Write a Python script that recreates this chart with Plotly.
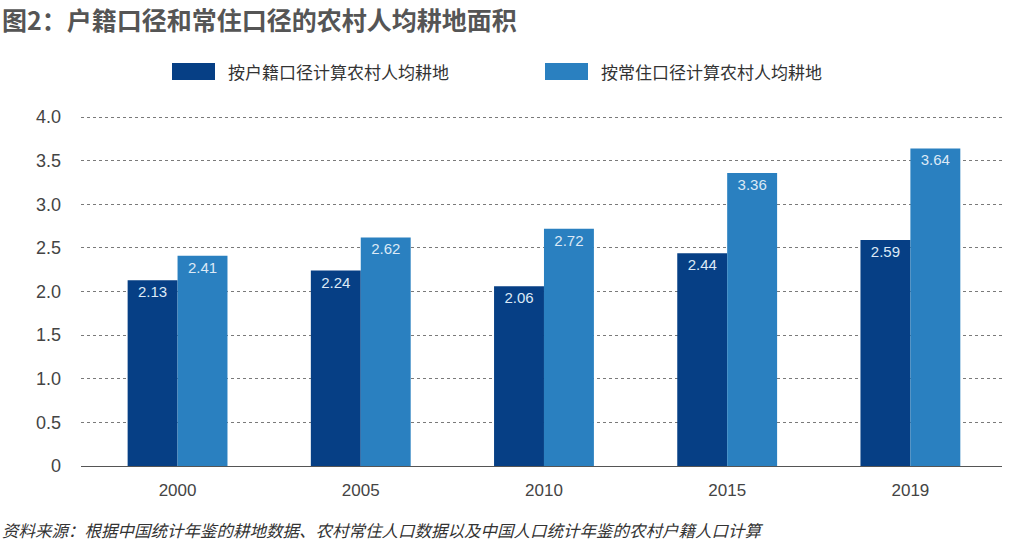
import plotly.graph_objects as go

years = ["2000", "2005", "2010", "2015", "2019"]
hukou = [2.13, 2.24, 2.06, 2.44, 2.59]
resident = [2.41, 2.62, 2.72, 3.36, 3.64]
series_names = ["按户籍口径计算农村人均耕地", "按常住口径计算农村人均耕地"]
y_ticks = [0, 0.5, 1.0, 1.5, 2.0, 2.5, 3.0, 3.5, 4.0]
y_tick_labels = ["0", "0.5", "1.0", "1.5", "2.0", "2.5", "3.0", "3.5", "4.0"]
title_text = "图2：户籍口径和常住口径的农村人均耕地面积"
source_text = "资料来源：根据中国统计年鉴的耕地数据、农村常住人口数据以及中国人口统计年鉴的农村户籍人口计算"

dark = "#063f85"
light = "#2a80c0"
font_family = "Noto Sans CJK SC, Noto Sans, sans-serif"
num_font = "Liberation Sans, Arial"

L, T, B, R = 81, 116, 81, 8
W, H = 1010, 547
PW, PH = W - L - R, H - T - B


def px_x(px):
    return (px - L) / PW


def px_y(py):
    return (H - B - py) / PH


fig = go.Figure()
for vals, color, name in [(hukou, dark, series_names[0]), (resident, light, series_names[1])]:
    fig.add_trace(go.Bar(
        x=years, y=vals, name=name, marker=dict(color=color, line=dict(width=0)),
        text=[f"{v:.2f}" for v in vals], textposition="inside", insidetextanchor="end",
        textfont=dict(color="#dce9f6", size=15, family=num_font),
        textangle=0, showlegend=False,
    ))

fig.update_layout(
    barmode="group", bargap=0.455, bargroupgap=0,
    width=W, height=H,
    margin=dict(l=L, r=R, t=T, b=B),
    paper_bgcolor="white", plot_bgcolor="white",
    font=dict(family=font_family, color="#444"),
    uniformtext=dict(minsize=13, mode="show"),
    xaxis=dict(range=[-0.527, 4.5], showgrid=False, showline=True, linecolor="#555", linewidth=1.2,
               tickfont=dict(size=17, family=num_font, color="#444"),
               ticks="", ticklabelstandoff=8),
    yaxis=dict(range=[0, 4.012], tickvals=y_ticks, ticktext=y_tick_labels,
               showgrid=True, gridcolor="#7a7a7a", griddash="3px,3px", gridwidth=1,
               zeroline=False, showline=False, ticks="",
               tickfont=dict(size=18, family=num_font, color="#444"),
               ticklabelstandoff=19),
)

# title
fig.add_annotation(text="<b>" + title_text + "</b>", xref="paper", yref="paper",
                   x=px_x(0), y=px_y(19), xanchor="left", yanchor="middle", showarrow=False,
                   font=dict(size=25, color="#555", family=font_family))

# legend (custom swatches)
legend_items = [(172, dark, series_names[0]), (545, light, series_names[1])]
for px, color, name in legend_items:
    fig.add_shape(type="rect", xref="paper", yref="paper",
                  x0=px_x(px), x1=px_x(px + 43), y0=px_y(80), y1=px_y(63),
                  fillcolor=color, line=dict(width=0))
    fig.add_annotation(text=name, xref="paper", yref="paper",
                       x=px_x(px + 54), y=px_y(71.5),
                       xanchor="left", yanchor="middle", showarrow=False,
                       font=dict(size=17, color="#333", family=font_family))

# source
fig.add_annotation(text="<i>" + source_text + "</i>", xref="paper", yref="paper",
                   x=px_x(0), y=px_y(530), xanchor="left", yanchor="middle",
                   showarrow=False, font=dict(size=16.5, color="#333", family=font_family))

fig.write_html("out.html", config={"displayModeBar": False},
               post_script="document.body.style.margin='0';")
